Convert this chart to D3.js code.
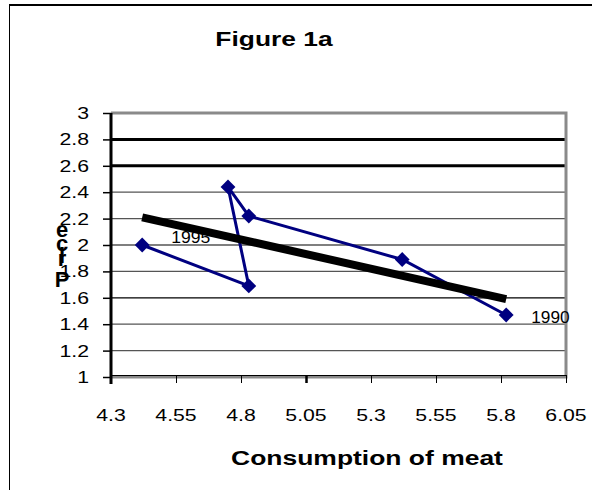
<!DOCTYPE html>
<html>
<head>
<meta charset="utf-8">
<script src="https://cdn.jsdelivr.net/npm/d3@7"></script>
<style>
  body { margin: 0; background: #fff; }
  text { font-family: "Liberation Sans", Arial, sans-serif; fill: #000; }
</style>
</head>
<body>
<div class="chart"></div>
<script>
// data
const years = [1990, 1991, 1992, 1993, 1994, 1995];
const meat = [5.82, 5.42, 4.83, 4.75, 4.83, 4.42];
const price = [1.47, 1.89, 2.22, 2.44, 1.69, 2.0];
const trendX = [4.42, 5.82];
const trendY = [2.21, 1.59];
const xTicks = [4.3, 4.55, 4.8, 5.05, 5.3, 5.55, 5.8, 6.05];
const yTicks = [1, 1.2, 1.4, 1.6, 1.8, 2, 2.2, 2.4, 2.6, 2.8, 3];
const boldGrid = [2.6, 2.8];
const yLetters = ['e', 'c', 'i', 'r', 'P'];

const width = 592;
const height = 490;

const svg = d3.select('.chart')
  .append('svg')
  .attr('width', width)
  .attr('height', height);

const x = d3.scaleLinear().domain([4.3, 6.05]).range([111, 566]);
const y = d3.scaleLinear().domain([1, 3]).range([377, 113]);

// outer frame
svg.append('line').attr('x1', 9).attr('x2', width).attr('y1', 5).attr('y2', 5)
  .attr('stroke', '#000').attr('stroke-width', 2);
svg.append('line').attr('x1', 9.5).attr('x2', 9.5).attr('y1', 5).attr('y2', height)
  .attr('stroke', '#000').attr('stroke-width', 1);

// title (the original is stretched sideways)
svg.append('text')
  .attr('transform', 'translate(274,46) scale(1.32,1)')
  .attr('text-anchor', 'middle')
  .attr('font-size', 20)
  .attr('font-weight', 'bold')
  .text('Figure 1a');

// gridlines
svg.selectAll('.grid')
  .data(yTicks.filter(d => d > 1 && d < 3))
  .enter()
  .append('line')
  .attr('class', 'grid')
  .attr('x1', x(4.3)).attr('x2', x(6.05))
  .attr('y1', d => y(d)).attr('y2', d => y(d))
  .attr('stroke', d => boldGrid.includes(d) ? '#000' : (d == 1.6 ? '#000' : '#555'))
  .attr('stroke-width', d => boldGrid.includes(d) ? 3 : 1.3);

// plot border (grey top / right / bottom)
svg.append('path')
  .attr('d', `M${x(4.3)},${y(3)}H${x(6.05)}V${y(1)}H${x(4.3)}`)
  .attr('fill', 'none')
  .attr('stroke', '#8a8a8a')
  .attr('stroke-width', 3);

// x axis
const xAxis = svg.append('g').attr('transform', `translate(0,${y(1) - 2})`)
  .call(d3.axisBottom(x).tickValues(xTicks).tickSize(8).tickFormat(d => d));
xAxis.select('.domain').attr('stroke', '#000').attr('stroke-width', 1);
xAxis.selectAll('text').remove();
xAxis.selectAll('.tick line').attr('stroke-width', d => d == 5.05 ? 2.5 : 1);
svg.selectAll('.xlab')
  .data(xTicks)
  .enter()
  .append('text')
  .attr('class', 'xlab')
  .attr('transform', d => `translate(${x(d)},421) scale(1.25,1)`)
  .attr('text-anchor', 'middle')
  .attr('font-size', 17)
  .text(d => d);

// y axis
const yAxis = svg.append('g').attr('transform', `translate(${x(4.3)},0)`)
  .call(d3.axisLeft(y).tickValues(yTicks).tickSize(8).tickFormat(''));
yAxis.select('.domain').attr('stroke', '#000').attr('stroke-width', 3)
  .attr('d', `M0,${y(3)}V${y(1) + 7}`);
yAxis.selectAll('.tick line').attr('stroke-width', 1.5);
svg.selectAll('.ylab')
  .data(yTicks)
  .enter()
  .append('text')
  .attr('class', 'ylab')
  .attr('transform', d => `translate(89,${y(d) + 6}) scale(1.25,1)`)
  .attr('text-anchor', 'end')
  .attr('font-size', 17)
  .text(d => d);

// y title, letters stacked on top of each other
const letterY = [237, 251, 263, 266, 287];
svg.selectAll('.ytitle')
  .data(yLetters)
  .enter()
  .append('text')
  .attr('class', 'ytitle')
  .attr('x', 62)
  .attr('y', (d, i) => letterY[i])
  .attr('text-anchor', 'middle')
  .attr('font-size', 22)
  .attr('font-weight', 'bold')
  .text(d => d);

// x title
svg.append('text')
  .attr('transform', 'translate(367,465) scale(1.26,1)')
  .attr('text-anchor', 'middle')
  .attr('font-size', 21)
  .attr('font-weight', 'bold')
  .text('Consumption of meat');

// year labels
svg.append('text')
  .attr('transform', `translate(${x(meat[0]) + 25},323) scale(1.08,1)`)
  .attr('font-size', 16)
  .text(years[0]);
svg.append('text')
  .attr('transform', `translate(${x(meat[5]) + 29},243) scale(1.1,1)`)
  .attr('font-size', 16)
  .text(years[5]);

// data line
const pts = meat.map((m, i) => [m, price[i]]);
svg.append('path')
  .datum(pts)
  .attr('fill', 'none')
  .attr('stroke', '#000080')
  .attr('stroke-width', 3)
  .attr('d', d3.line().x(d => x(d[0])).y(d => y(d[1])));

svg.selectAll('.marker')
  .data(pts)
  .enter()
  .append('path')
  .attr('class', 'marker')
  .attr('transform', d => `translate(${x(d[0])},${y(d[1])}) rotate(45)`)
  .attr('d', d3.symbol().type(d3.symbolSquare).size(110))
  .attr('fill', '#000080');

// trend line
svg.append('path')
  .datum(trendX.map((t, i) => [t, trendY[i]]))
  .attr('fill', 'none')
  .attr('stroke', '#000')
  .attr('stroke-width', 8)
  .attr('d', d3.line().x(d => x(d[0])).y(d => y(d[1])));
</script>
</body>
</html>
